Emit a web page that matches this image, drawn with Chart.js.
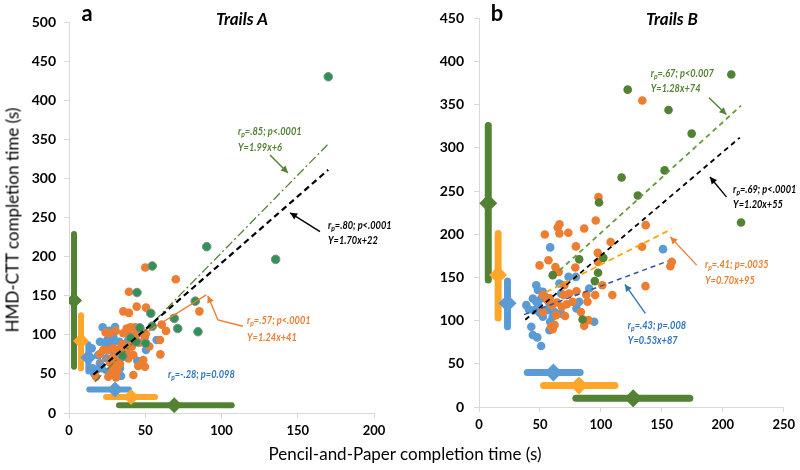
<!DOCTYPE html>
<html><head><meta charset="utf-8">
<script src="https://cdn.jsdelivr.net/npm/chart.js@4/dist/chart.umd.min.js"></script>
<style>
body{margin:0;background:#fff;width:800px;height:470px;position:relative;overflow:hidden;font-family:Lato,sans-serif}
.cv{position:absolute;top:0;width:400px;height:470px}
.t{position:absolute;white-space:nowrap;transform:translate(-50%,-50%);color:#000;line-height:1}
</style></head><body>
<div class="cv" style="left:0"><canvas id="ca" width="400" height="470"></canvas></div>
<div class="cv" style="left:400px"><canvas id="cb" width="400" height="470"></canvas></div>
<div class="t" style="left:87px;top:13px;font-weight:bold;font-size:22px">a</div>
<div class="t" style="left:497px;top:13px;font-weight:bold;font-size:22px">b</div>
<div class="t" style="left:242px;top:18px;font-weight:bold;font-style:italic;font-size:17px">Trails A</div>
<div class="t" style="left:672px;top:18px;font-weight:bold;font-style:italic;font-size:17px">Trails B</div>
<div class="t" style="left:12px;top:220px;font-size:17px;transform:translate(-50%,-50%) rotate(-90deg)">HMD-CTT completion time (s)</div>
<div class="t" style="left:405px;top:453px;font-size:17px">Pencil-and-Paper completion time (s)</div>
<script>
// ---------- Panel a (Trails A) data ----------
const aXTicks = [0, 50, 100, 150, 200];
const aYTicks = [0, 50, 100, 150, 200, 250, 300, 350, 400, 450, 500];
const aBlue = [[22.1,109.6],[26.4,105.2],[29.1,96.8],[25.1,93.3],[20.3,91.2],[14.9,82.7],[24.1,85.7],[33,91.2],[38.9,93.3],[37.4,80.5],[57.5,93.3],[50.5,80.5],[44.8,66.9],[47.7,63.5],[20.3,63.5],[21.4,57.2],[16.4,50.8],[15.5,57.2],[33.4,57.2],[34.1,47.3],[25.8,52.8],[29.5,74.2],[33,67],[24.6,70],[19.2,74],[30.2,110],[28,88],[36,72],[18,55]];
const aOrange = [[50,186],[70,171],[39.3,155],[35.6,130],[39.3,128],[44.4,136],[50.5,134.7],[85.5,130],[60.8,113],[63.6,105],[59.7,93.3],[40.4,109.6],[43.3,109.6],[38.9,104],[35.6,102],[43.9,101],[47.7,104],[49.8,97.6],[22.5,80.5],[20.3,75.4],[25.4,80.5],[29.1,82.7],[32.3,80.5],[37.8,78.4],[41.1,84.8],[42.2,74.2],[38.9,69.9],[29.1,69.9],[31.3,65.6],[26.9,64.3],[33.4,62.7],[29.1,58.4],[31.7,54.1],[28,51.5],[25.8,46.4],[30.8,45.6],[17.7,46.4],[42.2,48.6],[45.4,60.1],[49.8,59.2],[48.7,67.7],[59.9,75],[52.7,85],[26.4,102],[24,103],[30.6,105],[37.8,108],[50.3,101],[41,98],[35,88],[46,90]];
const aGreen = [[170,430],[90.3,212.7],[135.5,196.5],[54.6,188],[44.6,154],[82.8,143],[53.6,127.5],[69,121],[46.4,109],[54.6,111],[71.3,108],[84.6,104],[40.4,96],[44.1,91],[50.3,89],[35.2,73]];
// fit line endpoints
const aFitGreen = [[17,40],[170,344]];
const aFitBlack = [[16,49],[170,311]];
const aFitOrange = [[18,63],[90,151]];
// group summaries: vertical [x, low, mean, high]; horizontal [y, low, mean, high]
const aVert = {blue:[12.7,53,71,88], orange:[7.9,57,92,125], green:[3.3,59,144,229]};
const aHorz = {blue:[30,13.3,30.2,39.3], orange:[20.5,24.3,40.7,56.4], green:[10,32.8,69,106.7]};

// ---------- Panel b (Trails B) data ----------
const bXTicks = [0, 50, 100, 150, 200, 250];
const bYTicks = [0, 50, 100, 150, 200, 250, 300, 350, 400, 450];
const bBlue = [[58.4,184.8],[151,182.8],[73.5,150.7],[79.5,150.7],[66,143],[47,141],[48.3,135.4],[52.4,133.4],[67.3,131.5],[51,125.7],[44.2,125.7],[47,121.8],[38.8,118],[57.8,120],[45.6,112.2],[56.4,112.2],[60.5,104.5],[52.4,104.5],[67.3,108.4],[82.2,121.8],[80,114.2],[90.4,137.3],[94.5,98.7],[42.9,92.9],[58.4,98.7],[44.2,83.3],[47.8,80.6],[51,70.6],[57.8,89],[49,117],[54,128],[62,110],[50,109],[41,113]];
const bOrange = [[134,355],[98,243],[95.8,216],[136.8,210.6],[86.3,206.7],[66,211.7],[64.6,207.9],[54,199.8],[66,201],[73.3,201.7],[79.5,186],[97.5,178.5],[97.7,168],[108,191],[133.8,185.5],[158.2,168],[157,163],[136.6,140],[109.4,129.6],[101.2,141],[95.3,129.6],[89,121.8],[83.6,110],[89.8,100.6],[86.3,94],[49.7,164],[57,170],[62.7,162],[65.4,156.5],[79,161.6],[70,141],[69.5,129.6],[74,131.5],[76.8,121.8],[52.4,129.6],[56,124],[60,118],[64,121],[68,116],[72,119],[58,126],[52.4,110],[63.3,106.4],[70.6,105.3],[59.2,93],[60.5,90],[62,95],[88,130],[80,134]];
const bGreen = [[207,385],[122,367.5],[155.5,344],[174.5,316.6],[152.3,274],[117,265.7],[130.3,245],[98.5,236.8],[215,213.6],[82.2,171],[102,172.7],[60.5,152.7],[97.7,155.4],[95,145.8],[85,101.4]];
const bFitGreen = [[66,158],[215,349]];
const bFitBlack = [[38,101],[214,312]];
const bFitOrange = [[55,133],[158,206]];
const bFitBlue = [[37,107],[155,169]];
const bVert = {blue:[23.4,93,120,146], orange:[15.7,103,153,201], green:[7.6,147,236,326]};
const bHorz = {blue:[40,39.6,61,83], orange:[25,53,82,111.5], green:[10,79.5,126.5,173]};

// ---------- annotations (data coordinates) ----------
const aNotes = [
  {x:110.8, y:[360.6,340], lines:['r_p=.85; p<.0001','Y=1.99x+6'], color:'#548235'},
  {x:169.8, y:[240.4,220.3], lines:['r_p=.80; p<.0001','Y=1.70x+22'], color:'#000000'},
  {x:116.7, y:[118,97.2], lines:['r_p=.57; p<.0001','Y=1.24x+41'], color:'#ed7d31'},
  {x:64.9, y:[49.9], lines:['r_p=-.28; p=0.098'], color:'#2e75b6'}
];
const aArrows = [
  {path:[[131.8,330],[143.6,307]], color:'#548235'},
  {path:[[164.6,232],[145,256]], color:'#000000'},
  {path:[[114,111],[97.7,119],[91,150]], color:'#ed7d31'}
];
const bNotes = [
  {x:140.9, y:[386.4,369], lines:['r_p=.67; p<0.007','Y=1.28x+74'], color:'#548235'},
  {x:208.5, y:[252.2,234.8], lines:['r_p=.69; p<.0001','Y=1.20x+55'], color:'#000000'},
  {x:185.4, y:[165.1,146.9], lines:['r_p=.41; p=.0035','Y=0.70x+95'], color:'#ed7d31'},
  {x:122.1, y:[94.9,77.5], lines:['r_p=.43; p=.008','Y=0.53x+87'], color:'#2e75b6'}
];
const bArrows = [
  {path:[[188.7,358],[203,338.6]], color:'#548235'},
  {path:[[203,243.3],[189.5,266.4]], color:'#000000'},
  {path:[[178.6,164.3],[157,197]], color:'#ed7d31'},
  {path:[[136.5,108.4],[119.7,142]], color:'#2e75b6'}
];

const C = {blue:'#5b9bd5', orange:'#ed7d31', greenA:'#2e9356', green:'#548235', barOrange:'#ffa62b', barBlue:'#5b9bd5', barGreen:'#548235'};

const toPts = arr => arr.map(p => ({x:p[0], y:p[1]}));

const notesPlugin = {
  id:'notes',
  afterDatasetsDraw(chart){
    const cfg = chart.options.plugins.notes;
    const {ctx} = chart; const xs = chart.scales.x, ys = chart.scales.y;
    ctx.save();
    cfg.arrows.forEach(a => {
      const pts = a.path.map(p => [xs.getPixelForValue(p[0]), ys.getPixelForValue(p[1])]);
      ctx.strokeStyle = a.color; ctx.fillStyle = a.color; ctx.lineWidth = 1.4;
      ctx.beginPath();
      pts.forEach((p,i) => i ? ctx.lineTo(p[0],p[1]) : ctx.moveTo(p[0],p[1]));
      const [x1,y1] = pts[pts.length-2], [x2,y2] = pts[pts.length-1];
      const ang = Math.atan2(y2-y1, x2-x1), L = 7, W = 3.5;
      ctx.stroke();
      ctx.beginPath(); ctx.moveTo(x2,y2);
      ctx.lineTo(x2-L*Math.cos(ang)+W*Math.sin(ang), y2-L*Math.sin(ang)-W*Math.cos(ang));
      ctx.lineTo(x2-L*Math.cos(ang)-W*Math.sin(ang), y2-L*Math.sin(ang)+W*Math.cos(ang));
      ctx.closePath(); ctx.fill();
    });
    ctx.textBaseline = 'middle';
    const SX = 0.84;
    cfg.texts.forEach(t => {
      ctx.fillStyle = t.color;
      t.lines.forEach((line, i) => {
        const px0 = xs.getPixelForValue(t.x), py = ys.getPixelForValue(t.y[i]);
        ctx.save();
        ctx.translate(px0, py); ctx.scale(SX, 1);
        let px = 0;
        const big = 'italic bold 11px Lato', small = 'italic bold 8px Lato';
        if (line.includes('_p')) {
          const [pre, post] = line.split('_p');
          ctx.font = big; ctx.fillText(pre, px, 0); px += ctx.measureText(pre).width;
          ctx.font = small; ctx.fillText('p', px, 3); px += ctx.measureText('p').width;
          ctx.font = big; ctx.fillText(post, px, 0);
        } else {
          ctx.font = big; ctx.fillText(line, px, 0);
        }
        ctx.restore();
      });
    });
    ctx.restore();
  }
};

function lineDs(pts, color, width, dash){
  return {type:'scatter', data:toPts(pts), showLine:true, borderColor:color, backgroundColor:color, borderWidth:width, borderDash:dash, pointRadius:0, borderCapStyle:'butt'};
}
function barDs(pts, color, width){
  return {type:'scatter', data:toPts(pts), showLine:true, borderColor:color, backgroundColor:color, borderWidth:width, pointRadius:0, borderCapStyle:'round'};
}
function summaryDatasets(vert, horz, colors, w, r){
  const out = [];
  const diamonds = [];
  ['green','orange','blue'].forEach(k => {
    const v = vert[k], h = horz[k];
    out.push(barDs([[v[0],v[1]],[v[0],v[3]]], colors[k], w));
    out.push(barDs([[h[1],h[0]],[h[3],h[0]]], colors[k], w));
    diamonds.push({type:'scatter', data:toPts([[v[0],v[2]],[h[2],h[0]]]), pointStyle:'rectRot', pointRadius:r, backgroundColor:colors[k], borderColor:colors[k], borderWidth:0});
  });
  return diamonds.concat(out);
}
function scatterDs(pts, color, border){
  return {type:'scatter', data:toPts(pts), pointRadius:4.3, backgroundColor:color, borderColor:border||color, borderWidth:border?1:0};
}
function axes(xmax, ymax, xticks, yticks, yWidth, xHeight, yPad){
  const grid = {drawOnChartArea:false, color:'#d9d9d9', tickLength:5};
  return {
    x:{type:'linear', min:0, max:xmax, afterFit:s=>{s.height=xHeight;},
       afterBuildTicks:s=>{s.ticks = xticks.map(v=>({value:v}));},
       ticks:{font:{family:'Lato', weight:'bold', size:13}, color:'#000', padding:5, maxRotation:0},
       grid, border:{color:'#d9d9d9'}},
    y:{type:'linear', min:0, max:ymax, afterFit:s=>{s.width=yWidth;},
       afterBuildTicks:s=>{s.ticks = yticks.map(v=>({value:v}));},
       ticks:{font:{family:'Lato', weight:'bold', size:14}, color:'#000', padding:yPad},
       grid, border:{color:'#d9d9d9'}}
  };
}
const summaryColors = {green:C.barGreen, orange:C.barOrange, blue:C.barBlue};

new Chart(document.getElementById('ca'), {
  type:'scatter',
  data:{datasets:[
    lineDs(aFitBlack, '#000', 2.2, [6,4]),
    lineDs(aFitGreen, C.green, 1.3, [9,3,2,3]),
    lineDs(aFitOrange, C.orange, 1.3, []),
    ...summaryDatasets(aVert, aHorz, summaryColors, 6, 8),
    scatterDs(aGreen, C.greenA, '#8a8a8a'),
    scatterDs(aOrange, C.orange),
    scatterDs(aBlue, C.blue)
  ]},
  options:{responsive:false, animation:false, events:[],
    layout:{padding:{left:0, right:26, top:22, bottom:0}},
    scales:axes(200, 500, aXTicks, aYTicks, 69, 57, 8),
    plugins:{legend:{display:false}, tooltip:{enabled:false}, notes:{texts:aNotes, arrows:aArrows}}
  },
  plugins:[notesPlugin]
});

new Chart(document.getElementById('cb'), {
  type:'scatter',
  data:{datasets:[
    lineDs(bFitBlack, '#000', 1.8, [5,4]),
    lineDs(bFitGreen, '#6a9a3c', 1.8, [5,4]),
    lineDs(bFitOrange, '#ffa500', 1.8, [6,4]),
    lineDs(bFitBlue, '#2f5597', 1.5, [5,4]),
    ...summaryDatasets(bVert, bHorz, summaryColors, 7, 9),
    scatterDs(bGreen, C.green),
    scatterDs(bOrange, C.orange),
    scatterDs(bBlue, C.blue)
  ]},
  options:{responsive:false, animation:false, events:[],
    layout:{padding:{left:0, right:14, top:18, bottom:0}},
    scales:axes(250, 450, bXTicks, bYTicks, 79, 63, 10),
    plugins:{legend:{display:false}, tooltip:{enabled:false}, notes:{texts:bNotes, arrows:bArrows}}
  },
  plugins:[notesPlugin]
});
</script>
</body></html>
